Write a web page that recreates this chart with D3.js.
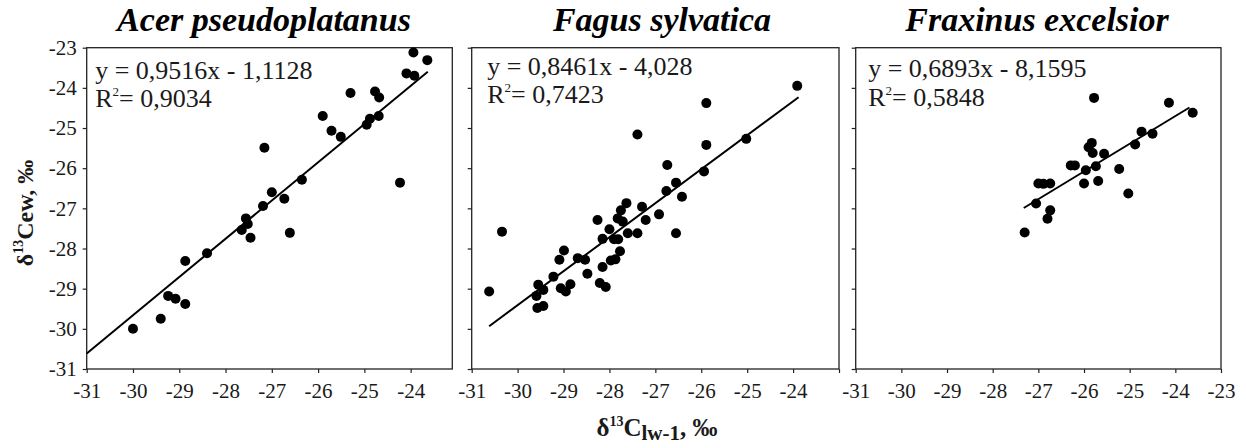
<!DOCTYPE html>
<html><head><meta charset="utf-8">
<script src="https://cdn.jsdelivr.net/npm/d3@7"></script>
<style>body{margin:0;background:#fff}</style>
</head><body><svg id="c" width="1246" height="448"></svg>
<script>
// ---- data ----
const titles = ["Acer pseudoplatanus", "Fagus sylvatica", "Fraxinus excelsior"];
const equations = ["y = 0,9516x - 1,1128", "y = 0,8461x - 4,028", "y = 0,6893x - 8,1595"];
const r2Values = ["0,9034", "0,7423", "0,5848"];
const slopes = [0.9516, 0.8461, 0.6893];
const intercepts = [-1.1128, -4.028, -8.1595];
const fitRanges = [[-31, -23.63], [-30.62, -23.88], [-27.32, -23.69]];
const xDomains = [[-31, -23.1], [-31, -23], [-31, -23]];
const xTicks = [-31, -30, -29, -28, -27, -26, -25, -24, -23];
const xTickLabels = [
  [-31, -30, -29, -28, -27, -26, -25, -24],
  [-31, -30, -29, -28, -27, -26, -25, -24],
  [-31, -30, -29, -28, -27, -26, -25, -24, -23]
];
const yTicks = [-31, -30, -29, -28, -27, -26, -25, -24, -23];

const acerX = [-30.0, -29.4, -29.24, -29.08, -28.87, -28.87, -28.4, -27.65, -27.56, -27.52, -27.46, -27.19, -27.16, -27.0, -26.73, -26.61, -26.35, -25.9, -25.71, -25.51, -25.3, -24.95, -24.88, -24.77, -24.68, -24.69, -24.23, -24.09, -23.94, -23.92, -23.64];
const acerY = [-30.0, -29.75, -29.18, -29.25, -29.38, -28.31, -28.12, -27.54, -27.25, -27.39, -27.73, -26.94, -25.49, -26.6, -26.76, -27.61, -26.29, -24.7, -25.07, -25.22, -24.13, -24.92, -24.77, -24.09, -24.24, -24.7, -26.36, -23.64, -23.12, -23.7, -23.31];

const fagusX = [-30.62, -30.34, -29.55, -29.59, -29.44, -29.57, -29.44, -29.22, -29.09, -28.99, -29.06, -28.95, -28.85, -28.69, -28.53, -28.48, -28.26, -28.21, -28.15, -28.08, -28.0, -28.15, -27.97, -27.87, -27.77, -27.9, -27.81, -27.82, -27.75, -27.63, -27.71, -27.6, -27.39, -27.39, -27.29, -27.21, -26.92, -26.76, -26.74, -26.55, -26.55, -26.42, -25.94, -25.89, -25.89, -25.02, -23.91];
const fagusY = [-29.07, -27.58, -28.9, -29.18, -29.03, -29.48, -29.43, -28.7, -28.28, -28.05, -28.99, -29.07, -28.89, -28.24, -28.28, -28.63, -27.29, -28.86, -28.46, -28.96, -27.52, -27.76, -28.3, -28.27, -28.07, -27.77, -27.77, -27.25, -27.05, -26.87, -27.33, -27.62, -27.62, -25.16, -26.96, -27.29, -27.15, -26.57, -25.92, -26.36, -27.62, -26.71, -26.08, -25.42, -24.38, -25.27, -23.95];

const fraxX = [-27.3, -27.05, -27.0, -26.89, -26.74, -26.74, -26.8, -26.29, -26.2, -26.0, -25.96, -25.9, -25.83, -25.81, -25.78, -25.74, -25.69, -25.56, -25.23, -25.03, -24.88, -24.74, -24.5, -24.14, -23.62];
const fraxY = [-27.6, -26.88, -26.38, -26.39, -26.38, -27.05, -27.26, -25.93, -25.93, -26.38, -26.05, -25.48, -25.37, -25.62, -24.25, -25.95, -26.32, -25.64, -26.02, -26.63, -25.41, -25.09, -25.14, -24.37, -24.62];

const seriesX = [acerX, fagusX, fraxX];
const seriesY = [acerY, fagusY, fraxY];

// ---- layout ----
const plotRanges = [[86.7, 452.3], [471.7, 839], [855.7, 1221]];
const plotTop = 47.7, plotBottom = 369;
const eqOffsets = [8.5, 15.5, 12.5];
const eqBaselines = [[79, 107], [75, 103], [77, 106]];
const titleCenters = [264, 662, 1037];

const svg = d3.select("#c");
const serif = "'Liberation Serif','Times New Roman',serif";
const ink = "#1a1a1a";

const y = d3.scaleLinear().domain([-31, -23]).range([plotBottom, plotTop]);

titles.forEach((t, i) => {
  const x = d3.scaleLinear().domain(xDomains[i]).range(plotRanges[i]);
  const g = svg.append("g");

  // title
  g.append("text").attr("x", titleCenters[i]).attr("y", 31)
    .attr("text-anchor", "middle")
    .attr("font-family", serif).attr("font-size", 34)
    .attr("font-weight", "bold").attr("font-style", "italic")
    .attr("fill", "#000").text(t);

  // x axis
  const xa = g.append("g").attr("transform", `translate(0,${plotBottom})`)
    .call(d3.axisBottom(x)
      .tickValues(xTicks.filter(v => v >= xDomains[i][0] && v <= xDomains[i][1]))
      .tickSize(4).tickPadding(10)
      .tickFormat(d => xTickLabels[i].includes(d) ? String(d) : ""));
  xa.select(".domain").remove();
  xa.selectAll("line").attr("stroke", "#222").attr("stroke-width", 1.2);
  xa.selectAll("text").attr("font-family", serif).attr("font-size", 21).attr("fill", ink);

  // y axis
  const ya = g.append("g").attr("transform", `translate(${plotRanges[i][0]},0)`)
    .call(d3.axisLeft(y).tickValues(yTicks).tickSize(4).tickPadding(6)
      .tickFormat(d => i === 0 ? String(d) : ""));
  ya.select(".domain").remove();
  ya.selectAll("line").attr("stroke", "#222").attr("stroke-width", 1.2);
  ya.selectAll("text").attr("font-family", serif).attr("font-size", 21).attr("fill", ink);

  // frame
  g.append("rect")
    .attr("x", x.range()[0]).attr("y", y.range()[1])
    .attr("width", x.range()[1] - x.range()[0])
    .attr("height", y.range()[0] - y.range()[1])
    .attr("fill", "none").attr("stroke", "#222").attr("stroke-width", 1.3);

  // points
  const pts = seriesX[i].map((v, k) => [v, seriesY[i][k]]);
  g.append("g").selectAll("circle").data(pts).join("circle")
    .attr("cx", d => x(d[0])).attr("cy", d => y(d[1]))
    .attr("r", 5).attr("fill", "#000");

  // trend line
  const fit = fitRanges[i].map(v => [v, slopes[i] * v + intercepts[i]]);
  g.append("path")
    .attr("d", d3.line().x(d => x(d[0])).y(d => y(d[1]))(fit))
    .attr("stroke", "#000").attr("stroke-width", 2).attr("fill", "none");

  // equation
  const ex = x.range()[0] + eqOffsets[i];
  g.append("text").attr("x", ex).attr("y", eqBaselines[i][0])
    .attr("font-family", serif).attr("font-size", 26).attr("fill", ink)
    .text(equations[i]);
  const rt = g.append("text").attr("x", ex).attr("y", eqBaselines[i][1])
    .attr("font-family", serif).attr("font-size", 26).attr("fill", ink);
  rt.append("tspan").text("R");
  rt.append("tspan").attr("dy", -11).attr("font-size", 13).text("2");
  rt.append("tspan").attr("dy", 11).text("= " + r2Values[i]);
});

// x axis title
const xl = svg.append("text").attr("x", 657).attr("y", 436).attr("text-anchor", "middle")
  .attr("font-family", serif).attr("font-weight", "bold").attr("font-size", 25).attr("fill", ink);
xl.append("tspan").text("δ");
xl.append("tspan").attr("dy", -10).attr("font-size", 14).text("13");
xl.append("tspan").attr("dy", 10).text("C");
xl.append("tspan").attr("dy", 4).attr("font-size", 21).text("lw-1");
xl.append("tspan").attr("dy", -4).text(", ‰");

// y axis title
const yl = svg.append("text").attr("transform", "translate(33,213) rotate(-90)")
  .attr("text-anchor", "middle")
  .attr("font-family", serif).attr("font-weight", "bold").attr("font-size", 24).attr("fill", ink);
yl.append("tspan").text("δ");
yl.append("tspan").attr("dy", -10).attr("font-size", 14).text("13");
yl.append("tspan").attr("dy", 10).text("Cew, ‰");
</script></body></html>
